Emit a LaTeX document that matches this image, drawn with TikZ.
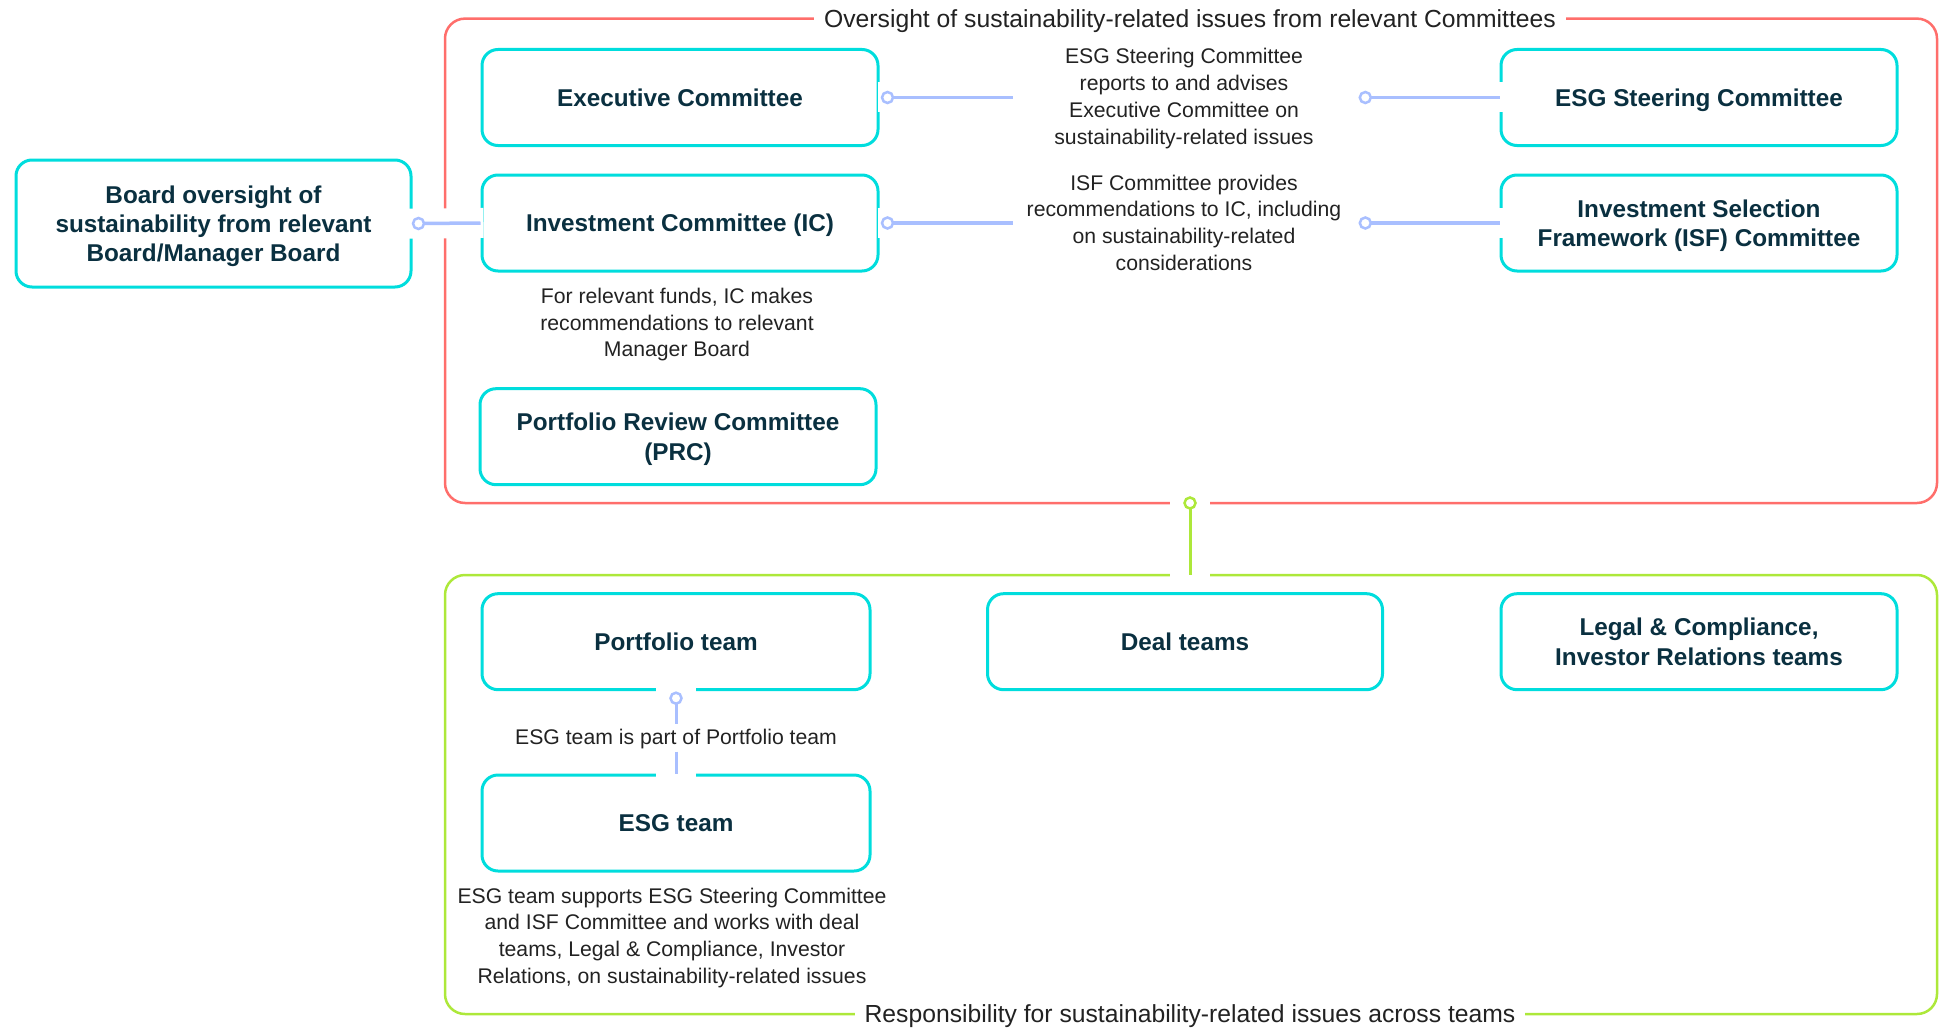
\documentclass[tikz,border=0pt]{standalone}
\usepackage{fontspec}
\setmainfont{Liberation Sans}
\definecolor{cyanb}{HTML}{00DDDD}
\definecolor{navy}{HTML}{0A3040}
\definecolor{txt}{HTML}{222222}
\definecolor{redf}{HTML}{FF6E6B}
\definecolor{greenf}{HTML}{ADE83A}
\definecolor{connb}{HTML}{A9BFFF}
\begin{document}
\begin{tikzpicture}[x=1pt,y=-1pt,
  box/.style={draw=cyanb, line width=3pt, rounded corners=16pt, fill=white, text=navy,
    font=\bfseries\fontsize{24.3}{29.2}\selectfont, align=center, inner sep=0pt,
    text depth=0pt, minimum width=396pt, minimum height=96pt},
  lab/.style={text=txt, font=\fontsize{21.2}{26.7}\selectfont, align=center, inner sep=0pt, text depth=0pt},
  ttl/.style={text=txt, font=\fontsize{24.7}{30}\selectfont, fill=white, inner xsep=10pt, inner ysep=6pt, text depth=0pt},
  frame/.style={line width=2.5pt, rounded corners=20pt},
  conn/.style={draw=connb, line width=3.5pt,
    preaction={draw=white, line width=30pt, shorten <=-10pt, shorten >=-3pt}},
  vconn/.style={draw=#1, line width=3pt,
    preaction={draw=white, line width=40pt, shorten <=-10pt, shorten >=-3pt}},
  dot/.style={circle, draw=#1, fill=white, line width=2.5pt, minimum size=11pt, inner sep=0pt},
]
\useasboundingbox (0,0) rectangle (1948,1030);
% frames
\draw[frame, draw=redf] (445,18.6) rectangle (1937,503);
\draw[frame, draw=greenf] (445,575) rectangle (1937,1014);
\node[ttl] (t1) at (1190,18.6) {Oversight of sustainability-related issues from relevant Committees};
\node[ttl] (t2) at (1190,1014) {Responsibility for sustainability-related issues across teams};
% boxes
\node[box, minimum width=395pt, minimum height=127pt] (board) at (213.5,223.5) {Board oversight of\\sustainability from relevant\\Board/Manager Board};
\node[box] (exec) at (680,97.5) {Executive Committee};
\node[box] (esgsc) at (1699,97.5) {ESG Steering Committee};
\node[box] (ic) at (680,223) {Investment Committee (IC)};
\node[box] (isf) at (1699,223) {Investment Selection\\Framework (ISF) Committee};
\node[box] (prc) at (678,436.7) {Portfolio Review Committee\\(PRC)};
\node[box, minimum width=388pt] (port) at (676,641.7) {Portfolio team};
\node[box, minimum width=395pt] (deal) at (1185,641.7) {Deal teams};
\node[box] (legal) at (1699,641.7) {Legal \& Compliance,\\Investor Relations teams};
\node[box, minimum width=388pt] (esgt) at (676,823) {ESG team};
% connector end points
\coordinate (bd) at ([xshift=6]board.east);
\coordinate (exd) at ([xshift=8]exec.east);
\coordinate (icd) at ([xshift=8]ic.east);
\coordinate (l1w) at (1012.5,97.5);
\coordinate (l1e) at (1365.3,97.5);
\coordinate (l2w) at (1012.5,223);
\coordinate (l2e) at (1365.3,223);
\coordinate (pd) at ([yshift=-7]port.south);
\coordinate (l3n) at (676,724.3);
\coordinate (l3s) at (676,751.6);
\coordinate (fd) at (1190,503);
\coordinate (ft) at (1190,575);
% connectors
\draw[conn] (bd) -- (ic.west);
\draw[conn] (exd) -- (l1w);
\draw[conn] (l1e) -- (esgsc.west);
\draw[conn] (icd) -- (l2w);
\draw[conn] (l2e) -- (isf.west);
\draw[vconn=connb] (pd) -- (l3n);
\draw[vconn=connb] (l3s) -- (esgt.north);
\draw[vconn=greenf] (fd) -- (ft);
\node[dot=connb] (d1) at (bd) {};
\node[dot=connb] (d2) at (exd) {};
\node[dot=connb] (d3) at (l1e) {};
\node[dot=connb] (d4) at (icd) {};
\node[dot=connb] (d5) at (l2e) {};
\node[dot=connb] (d6) at (pd) {};
\node[dot=greenf] (d7) at (fd) {};
% labels
\node[lab] (lab1) at (1184,96.3) {ESG Steering Committee\\reports to and advises\\Executive Committee on\\sustainability-related issues};
\node[lab] (lab2) at (1184,222.4) {ISF Committee provides\\recommendations to IC, including\\on sustainability-related\\considerations};
\node[lab] (lab3) at (677,322.4) {For relevant funds, IC makes\\recommendations to relevant\\Manager Board};
\node[lab] (lab4) at (676,736.7) {ESG team is part of Portfolio team};
\node[lab] (lab5) at (672,935.5) {ESG team supports ESG Steering Committee\\and ISF Committee and works with deal\\teams, Legal \& Compliance, Investor\\Relations, on sustainability-related issues};
\end{tikzpicture}
\end{document}
